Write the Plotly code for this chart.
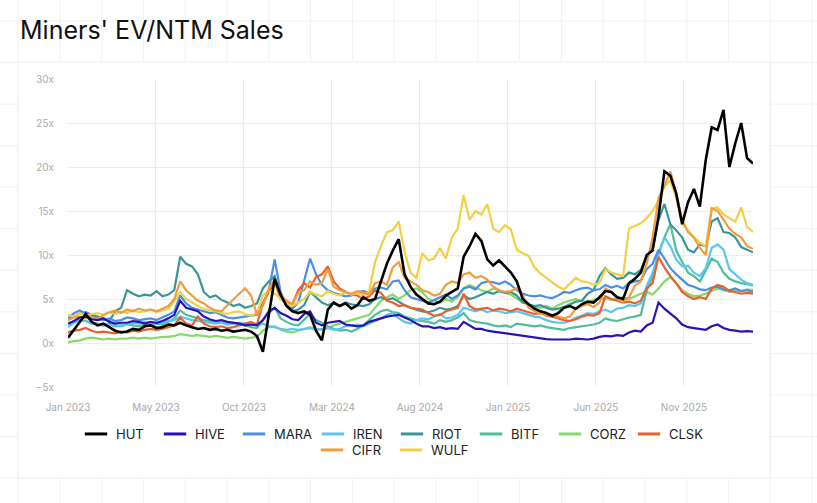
import pandas as pd
import plotly.graph_objects as go

W, H = 817, 503
# plot box in page pixels
L, R, T, B = 68, 753, 79, 387

START = "2023-01-01"
END = "2026-03-06"

# values, one point every 10 days from START
HUT = [0.6, 1.5, 2.5, 3.3, 2.4, 2.0, 2.2, 1.8, 1.4, 1.2,
       1.3, 1.6, 1.5, 1.9, 2.0, 1.7, 1.8, 2.1, 2.0, 2.3,
       2.0, 1.8, 1.6, 1.7, 1.5, 1.6, 1.4, 1.5, 1.3, 1.4,
       1.5, 1.3, 0.8, -1.0, 3.0, 7.3, 5.5, 4.2, 3.6, 3.4,
       3.6, 3.2, 1.4, 0.3, 3.8, 4.6, 4.2, 4.5, 3.9, 4.3,
       5.2, 4.8, 5.0, 7.0, 9.0, 10.5, 11.8, 7.8, 6.4, 5.5,
       5.0, 4.5, 4.4, 4.7, 5.4, 5.8, 6.2, 9.8, 11.0, 12.4,
       11.6, 9.5, 8.8, 9.4, 8.7, 8.0, 7.0, 5.0, 4.4, 3.9,
       3.6, 3.4, 3.1, 3.4, 4.0, 4.2, 3.9, 4.4, 4.7, 4.6,
       5.2, 5.9, 5.8, 5.2, 5.0, 6.8, 7.3, 8.0, 10.0, 10.5,
       14.4, 19.5, 19.0, 17.0, 13.5, 16.0, 17.5, 15.5, 20.8, 24.5,
       24.2, 26.5, 20.0, 22.7, 25.0, 21.0, 20.4]
HIVE = [2.2, 2.5, 2.9, 3.0, 2.7, 2.6, 2.8, 2.4, 2.2, 2.3,
        2.3, 2.5, 2.4, 2.2, 2.4, 2.3, 2.5, 2.8, 3.2, 4.8,
        4.0, 3.8, 3.6, 3.0, 2.7, 2.5, 2.6, 2.4, 2.3, 2.2,
        2.0, 2.1, 2.0, 2.6, 3.6, 4.0, 3.4, 3.1, 2.7, 2.6,
        3.3, 3.6, 2.3, 2.0, 2.3, 2.4, 2.5, 2.1, 2.0, 1.9,
        2.0, 2.4, 2.6, 2.8, 3.0, 3.1, 3.2, 2.9, 2.6, 2.2,
        1.9, 1.9, 1.7, 1.8, 1.6, 1.7, 1.6, 2.4, 2.0, 1.6,
        1.6, 1.4, 1.3, 1.2, 1.1, 1.0, 0.9, 0.8, 0.7, 0.6,
        0.5, 0.45, 0.4, 0.4, 0.45, 0.4, 0.5, 0.45, 0.4, 0.5,
        0.7, 0.8, 0.75, 0.9, 0.8, 1.2, 1.4, 1.3, 2.0, 2.3,
        4.6, 3.9, 3.4, 2.8, 2.1, 1.8, 1.7, 1.6, 1.5, 1.9,
        2.1, 1.7, 1.5, 1.4, 1.3, 1.35, 1.3]
MARA = [2.8, 3.4, 3.7, 3.3, 3.0, 2.7, 2.6, 2.8, 2.5, 2.6,
        2.9, 2.8, 2.6, 2.7, 2.8, 2.6, 2.9, 3.2, 3.6, 5.4,
        4.5, 4.0, 3.8, 3.6, 3.4, 3.5, 3.2, 2.9, 2.8, 2.9,
        3.0, 3.1, 3.2, 4.5, 6.0, 9.5, 5.8, 4.2, 3.9, 4.6,
        7.0, 9.6, 7.8, 6.6, 6.0, 5.7, 5.5, 5.3, 5.4, 5.8,
        5.9, 5.7, 6.2, 6.3, 6.1, 7.0, 7.1, 6.0, 5.2, 5.0,
        4.8, 4.6, 4.9, 5.2, 5.5, 5.0, 5.4, 6.2, 6.4, 6.1,
        6.8, 7.0, 6.9, 6.7, 7.0, 6.6, 6.0, 5.6, 5.4, 5.3,
        5.4, 5.2, 5.1, 5.4, 5.8, 5.7, 6.0, 6.2, 6.3, 6.0,
        6.1, 6.6, 6.3, 6.5, 6.2, 6.8, 7.0, 7.1, 8.4, 9.0,
        10.6, 9.6, 8.5, 7.8, 7.2, 6.6, 6.4, 6.1, 6.0, 6.3,
        6.4, 6.1, 6.0, 6.2, 5.9, 6.0, 5.8]
IREN = [1.8, 2.3, 2.6, 2.5, 2.2, 2.1, 2.0, 2.2, 2.0, 1.9,
        2.1, 2.3, 2.2, 2.4, 2.3, 2.2, 2.4, 2.5, 2.6, 3.0,
        2.8, 2.6, 2.5, 2.4, 2.3, 2.2, 2.3, 2.1, 2.2, 2.3,
        2.2, 2.1, 2.0, 2.2, 1.9, 1.8, 1.6, 1.5, 1.6, 1.5,
        1.6, 1.7, 1.5, 1.6, 1.7, 1.5, 1.6, 1.9, 2.0, 2.1,
        1.9, 2.2, 2.5, 2.8, 3.2, 3.4, 2.8, 2.4, 2.2, 2.6,
        2.8, 2.7, 3.0, 3.3, 2.8, 2.9, 3.2, 4.0, 3.8, 3.6,
        3.8, 3.5, 3.7, 3.6, 3.4, 3.5, 3.6, 3.4, 3.2, 3.0,
        2.9, 2.6, 2.4, 2.3, 2.3, 2.5, 2.9, 3.1, 3.4, 3.3,
        3.6, 3.8, 3.5, 3.9, 4.0, 4.3, 4.2, 4.5, 6.5, 8.0,
        10.0, 12.0, 11.0, 9.5, 8.7, 8.8, 8.0, 7.6, 8.5, 10.8,
        11.2, 10.6, 8.4, 7.8, 7.2, 6.8, 6.6]
RIOT = [2.6, 3.0, 3.4, 3.5, 3.2, 3.0, 2.8, 2.5, 3.6, 4.0,
        6.0, 5.6, 5.3, 5.5, 5.4, 5.9, 5.3, 5.5, 6.0, 9.8,
        9.0, 8.7, 7.8, 5.8, 5.2, 5.4, 4.9, 4.6, 4.2, 4.4,
        4.0, 4.2, 4.5, 6.2, 7.0, 7.6, 5.2, 4.4, 3.6, 3.8,
        4.3, 5.8, 5.2, 4.6, 4.3, 4.5, 4.2, 4.6, 4.4, 4.3,
        4.2, 4.4, 5.0, 5.2, 4.9, 5.1, 4.7, 4.3, 4.0, 3.8,
        3.6, 3.5, 3.7, 4.0, 3.8, 3.9, 4.2, 5.4, 5.0, 5.2,
        5.5, 5.8, 5.6, 5.9, 5.7, 5.8, 5.4, 4.6, 4.4, 4.2,
        4.3, 4.0, 3.8, 3.9, 4.1, 4.4, 4.7, 4.8, 5.6, 6.0,
        7.6, 8.5, 7.8, 7.3, 7.4, 8.0, 7.8, 8.3, 9.8, 10.8,
        14.0, 15.8, 13.5, 12.8, 12.0, 10.6, 10.3, 11.2, 11.0, 13.8,
        14.2, 12.6, 12.5, 12.0, 10.9, 10.6, 10.3]
BITF = [2.2, 2.4, 2.6, 2.5, 2.3, 2.2, 2.0, 2.1, 1.9, 2.0,
        2.1, 2.0, 1.9, 2.1, 2.0, 2.2, 2.1, 2.4, 2.8, 3.7,
        3.2, 3.0, 2.8, 2.6, 2.5, 2.4, 2.3, 2.2, 2.3, 2.1,
        2.0, 1.8, 1.7, 2.6, 3.4, 4.0, 2.8, 2.4, 2.1, 2.0,
        2.6, 3.3, 2.6, 2.3, 1.9, 1.6, 1.4, 1.5, 1.3, 1.6,
        2.0, 2.6, 3.2, 3.6, 3.8, 3.5, 3.4, 3.0, 2.8, 2.6,
        2.5, 2.4, 2.2, 2.6, 2.4, 2.6, 2.9, 3.4, 2.6, 2.4,
        2.3, 2.2, 2.0, 1.9, 2.0, 1.8, 2.2, 2.1, 2.0, 1.9,
        2.0, 1.8, 1.7, 1.6, 1.5, 1.7, 1.8, 1.9, 2.0, 2.1,
        2.3, 2.8, 2.6, 2.5, 2.7, 2.9, 3.0, 3.2, 6.0, 7.5,
        10.2, 12.0, 13.5, 10.5, 9.2, 8.0, 7.6, 7.0, 8.2, 9.6,
        9.2, 8.0, 7.3, 7.0, 6.8, 6.7, 6.5]
CORZ = [0.1, 0.2, 0.3, 0.5, 0.6, 0.5, 0.4, 0.5, 0.4, 0.5,
        0.5, 0.6, 0.5, 0.6, 0.5, 0.6, 0.7, 0.7, 0.8, 1.0,
        0.9, 0.8, 0.9, 0.8, 0.7, 0.8, 0.7, 0.6, 0.7, 0.6,
        0.5, 0.6, 0.7, 1.4, 1.8, 1.9, 1.5, 1.3, 1.2, 1.4,
        1.6, 1.8, 1.6, 1.5, 1.7, 2.0, 2.2, 2.4, 2.6, 2.8,
        3.0, 3.2, 4.0, 4.8, 5.2, 5.5, 5.0, 5.4, 6.0, 6.2,
        5.8, 5.0, 4.8, 4.6, 5.0, 4.7, 5.2, 6.2, 6.6, 6.3,
        6.0, 5.8, 6.2, 6.0, 5.7, 5.5, 5.0, 4.6, 4.4, 4.1,
        4.0, 4.2, 3.9, 4.3, 4.6, 4.8, 5.0, 4.8, 4.6, 4.9,
        5.0, 5.1, 4.9, 5.0, 5.2, 5.0, 5.3, 5.6, 5.8, 5.5,
        6.2, 7.0, 7.5, 6.8, 6.0, 5.6, 5.3, 5.4, 5.6, 5.9,
        6.2, 6.0, 5.8, 6.0, 5.9, 6.1, 6.0]
CLSK = [1.2, 1.4, 1.5, 1.7, 1.4, 1.2, 1.3, 1.2, 1.1, 1.3,
        1.2, 1.4, 1.3, 1.5, 1.6, 1.5, 1.6, 1.8, 2.0, 2.9,
        2.2, 2.0, 3.0, 2.2, 1.9, 1.8, 1.9, 1.7, 1.8, 2.0,
        2.2, 2.4, 2.1, 4.5, 5.8, 7.0, 5.0, 4.6, 4.4, 6.0,
        6.8, 6.3, 7.5, 7.8, 8.7, 7.0, 6.2, 5.8, 5.5, 5.4,
        5.0, 5.3, 6.0, 5.7, 4.8, 4.6, 4.2, 4.3, 4.0, 3.9,
        3.8, 3.4, 3.1, 3.2, 3.6, 3.8, 4.0, 5.6, 4.2, 3.8,
        3.9, 4.0, 3.7, 3.9, 3.8, 3.6, 3.9, 3.7, 3.5, 3.3,
        3.4, 3.1, 3.0, 2.8, 2.6, 2.5, 2.7, 3.0, 3.2, 3.1,
        3.4, 5.3, 5.0, 4.8, 4.6, 4.7, 4.5, 4.8, 6.2, 6.8,
        9.8, 8.6, 7.6, 6.8, 5.8, 5.3, 5.0, 5.2, 5.0, 6.2,
        6.6, 6.4, 5.9, 5.8, 5.6, 5.7, 5.6]
CIFR = [2.6, 2.9, 3.0, 2.8, 2.9, 2.7, 3.2, 3.5, 3.7, 3.4,
        3.8, 3.6, 3.9, 3.7, 3.8, 3.6, 3.9, 4.2, 5.0, 7.0,
        6.0, 5.4, 4.8, 4.5, 4.0, 3.7, 3.6, 4.3, 5.0, 5.6,
        6.2, 5.4, 3.2, 4.2, 6.2, 7.2, 5.5, 4.8, 4.4, 5.7,
        6.0, 7.0, 6.6, 6.8, 8.4, 6.4, 6.0, 5.8, 5.6, 5.9,
        5.7, 5.5, 6.8, 7.0, 6.6, 8.6, 9.2, 7.4, 7.0, 6.6,
        6.0, 5.8, 5.4, 5.6, 6.6, 7.0, 6.8, 7.8, 8.0, 7.4,
        7.6, 7.2, 6.4, 6.0, 5.8, 5.9, 6.2, 5.4, 4.0, 3.6,
        3.4, 3.2, 3.1, 3.0, 2.8, 3.0, 3.9, 4.2, 4.4, 4.1,
        4.6, 6.2, 5.8, 5.0, 4.7, 5.2, 6.5, 7.0, 9.0, 12.0,
        16.5, 17.8, 19.5, 17.0, 14.0, 12.6, 12.0, 10.8, 10.0, 15.3,
        15.0, 14.0, 13.0, 12.4, 12.0, 11.0, 10.7]
WULF = [3.2, 3.0, 3.4, 3.1, 3.3, 3.4, 3.2, 3.5, 3.3, 3.6,
        3.4, 3.7, 3.5, 3.6, 3.8, 3.5, 3.7, 3.9, 4.8, 5.8,
        5.0, 4.6, 4.2, 3.9, 3.7, 3.6, 3.4, 3.3, 3.5, 3.6,
        3.3, 3.1, 3.4, 5.4, 5.9, 5.6, 5.0, 4.5, 4.2, 4.6,
        5.0, 5.8, 5.5, 5.3, 5.9, 5.6, 5.4, 5.8, 5.5, 5.7,
        5.4, 5.9, 9.2, 11.0, 12.6, 12.8, 13.8, 10.4, 8.0, 7.4,
        10.2, 9.4, 9.6, 10.8, 9.6, 12.0, 13.0, 16.8, 14.0, 15.0,
        14.6, 15.8, 13.0, 12.6, 13.4, 12.9, 10.6, 10.2, 9.9, 8.6,
        7.9, 7.4, 6.9, 6.4, 6.1, 6.8, 7.4, 7.0, 6.9, 6.6,
        6.8, 8.4, 8.0, 7.8, 7.6, 13.0, 13.3, 13.6, 14.2, 15.0,
        16.2, 17.8, 18.5, 16.5, 13.6, 12.8, 12.0, 11.4, 11.0, 15.3,
        15.4, 14.6, 14.2, 13.8, 15.4, 13.2, 12.6]

ROW1 = ["HUT", "HIVE", "MARA", "IREN", "RIOT", "BITF", "CORZ", "CLSK"]
ROW2 = ["CIFR", "WULF"]

series = {"HUT": HUT, "HIVE": HIVE, "MARA": MARA, "IREN": IREN, "RIOT": RIOT,
          "BITF": BITF, "CORZ": CORZ, "CLSK": CLSK, "CIFR": CIFR, "WULF": WULF}
colors = {"HUT": "#000000", "HIVE": "#2a12b8", "MARA": "#4a8ee6", "IREN": "#5cc4ef",
          "RIOT": "#3a9696", "BITF": "#4fbf9b", "CORZ": "#86d96a", "CLSK": "#e8602a",
          "CIFR": "#f29c3e", "WULF": "#f1d044"}
draw_order = ["CORZ", "BITF", "IREN", "RIOT", "MARA", "CLSK", "WULF", "CIFR", "HIVE", "HUT"]

dates = pd.date_range(START, periods=len(HUT), freq="10D")
tick_dates = pd.date_range(START, periods=8, freq="149D")

fig = go.Figure()
for name in draw_order:
    fig.add_trace(go.Scatter(
        x=dates, y=series[name], mode="lines", name=name, showlegend=False,
        line=dict(color=colors[name], width=2.6 if name == "HUT" else 2.2)))

# short dash legend keys
for name in ROW1 + ROW2:
    fig.add_trace(go.Scatter(
        x=[None], y=[None], mode="markers", name=name,
        legend="legend" if name in ROW1 else "legend2",
        marker=dict(symbol="line-ew", size=16, line=dict(width=3, color=colors[name]))))


def px_x(p):
    return (p - L) / (R - L)


def px_y(p):
    return (B - p) / (B - T)


grid = "#f1f1f1"
shapes = []
# graph-paper page background
for k in range(20):
    xv = px_x(18 + 41.8 * k)
    shapes.append(dict(type="line", xref="paper", yref="paper", x0=xv, x1=xv,
                       y0=px_y(H), y1=px_y(0), line=dict(color=grid, width=1), layer="below"))
for k in range(12):
    yv = px_y(21 + 41.55 * k)
    shapes.append(dict(type="line", xref="paper", yref="paper", x0=px_x(0), x1=px_x(W),
                       y0=yv, y1=yv, line=dict(color=grid, width=1), layer="below"))
# white card
shapes.append(dict(type="rect", xref="paper", yref="paper",
                   x0=px_x(18), x1=px_x(770), y0=px_y(478), y1=px_y(62),
                   fillcolor="white", line=dict(color="#eeeeee", width=1), layer="below"))

fig.update_layout(
    width=W, height=H,
    margin=dict(l=L, r=W - R, t=T, b=H - B),
    paper_bgcolor="white", plot_bgcolor="rgba(0,0,0,0)",
    font=dict(family="Inter, Helvetica, Arial, sans-serif", color="#222"),
    title=dict(text="Miners' EV/NTM Sales", xref="container", yref="container",
               x=20 / W, y=1 - 30 / H, xanchor="left", yanchor="middle",
               font=dict(size=25, color="#111")),
    shapes=shapes,
    xaxis=dict(type="date", range=[START, END], tickvals=tick_dates, tickformat="%b %Y",
               showgrid=True, gridcolor="#ececec", zeroline=False, showline=False,
               ticks="", ticklabelstandoff=13, tickfont=dict(size=10, color="#a9a9a9")),
    yaxis=dict(range=[-5, 30], dtick=5, tick0=0, ticksuffix="x",
               showgrid=True, gridcolor="#ececec", zeroline=False, showline=False,
               ticks="", ticklabelstandoff=13, tickfont=dict(size=10, color="#a9a9a9")),
    legend=dict(orientation="h", x=px_x(392), xanchor="center", y=px_y(419), yanchor="top",
                entrywidth=34, entrywidthmode="pixels", font=dict(size=13, color="#222"),
                bgcolor="rgba(0,0,0,0)"),
    legend2=dict(orientation="h", x=px_x(391), xanchor="center", y=px_y(435), yanchor="top",
                 entrywidth=34, entrywidthmode="pixels", font=dict(size=13, color="#222"),
                 bgcolor="rgba(0,0,0,0)"),
)

# the page body has an 8px default margin; drop it so the figure sits at the corner
fig.write_html("out.html", config={"displayModeBar": False},
               post_script="document.body.style.margin='0px';")
